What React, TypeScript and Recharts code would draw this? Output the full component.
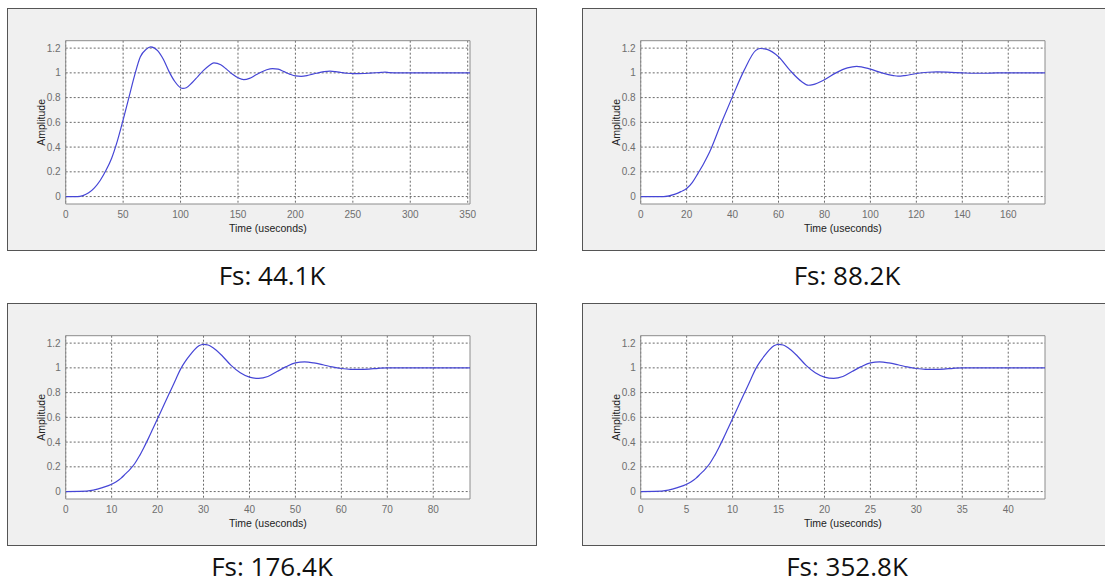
import React from 'react'
import { LineChart, Line, XAxis, YAxis, CartesianGrid, ReferenceArea, Label } from 'recharts'

// step responses
const T_441 = [0, 10, 15, 20, 25, 30, 35, 40, 45, 50, 55, 60, 65, 70, 74, 80, 85, 90, 95, 100, 102, 105, 110, 115, 120, 125, 129, 135, 140, 145, 150, 155, 160, 165, 170, 175, 180, 185, 190, 195, 200, 205, 210, 215, 220, 225, 230, 235, 240, 245, 250, 255, 260, 265, 270, 275, 278, 282, 290, 352]
const A_441 = [0, 0, 0.008, 0.03, 0.07, 0.13, 0.21, 0.31, 0.45, 0.62, 0.8, 0.98, 1.13, 1.19, 1.21, 1.18, 1.11, 1.01, 0.93, 0.88, 0.875, 0.88, 0.92, 0.97, 1.02, 1.06, 1.08, 1.065, 1.03, 0.99, 0.96, 0.945, 0.955, 0.98, 1.005, 1.025, 1.035, 1.03, 1.01, 0.99, 0.975, 0.972, 0.978, 0.99, 1.0, 1.01, 1.014, 1.01, 1.003, 0.997, 0.994, 0.994, 0.995, 0.998, 1.001, 1.004, 1.006, 1.002, 1.0, 1.0]

const T_882 = [0, 10, 15, 17.5, 20, 22.5, 25, 27.5, 30, 35, 40, 45, 50, 52, 55, 60, 65, 70, 73, 75, 80, 85, 90, 94, 100, 105, 110, 112, 115, 120, 125, 129, 135, 140, 145, 150, 155, 160, 176]
const A_882 = [0, 0, 0.02, 0.04, 0.065, 0.115, 0.19, 0.27, 0.36, 0.59, 0.81, 1.02, 1.18, 1.197, 1.19, 1.13, 1.02, 0.93, 0.9, 0.905, 0.945, 1.0, 1.04, 1.053, 1.03, 1.0, 0.978, 0.973, 0.978, 0.995, 1.005, 1.008, 1.004, 1.0, 0.997, 0.997, 1.0, 1.0, 1.0]

const T_1764 = [0, 3, 6, 8, 10, 11, 12, 13, 14, 15, 16, 17, 18, 19, 20, 21, 22, 23, 24, 25, 26, 27, 28, 29, 30, 31, 32, 34, 36, 38, 40, 42, 44, 46, 48, 50, 52, 54, 56, 58, 60, 62, 64, 66, 68, 70, 88]
const A_1764 = [0, 0.001, 0.012, 0.032, 0.059, 0.08, 0.107, 0.143, 0.18, 0.225, 0.285, 0.355, 0.43, 0.51, 0.59, 0.67, 0.75, 0.83, 0.91, 0.99, 1.05, 1.1, 1.145, 1.178, 1.19, 1.185, 1.165, 1.1, 1.02, 0.96, 0.925, 0.915, 0.93, 0.97, 1.01, 1.04, 1.048, 1.04, 1.025, 1.008, 0.995, 0.988, 0.987, 0.99, 0.996, 1.0, 1.0]

const T_3528 = [0, 1.5, 3, 4, 5, 5.5, 6, 6.5, 7, 7.5, 8, 8.5, 9, 9.5, 10, 10.5, 11, 11.5, 12, 12.5, 13, 13.5, 14, 14.5, 15, 15.5, 16, 17, 18, 19, 20, 21, 22, 23, 24, 25, 26, 27, 28, 29, 30, 31, 32, 33, 34, 35, 44]
const A_3528 = [0, 0.001, 0.012, 0.032, 0.059, 0.08, 0.107, 0.143, 0.18, 0.225, 0.285, 0.355, 0.43, 0.51, 0.59, 0.67, 0.75, 0.83, 0.91, 0.99, 1.05, 1.1, 1.145, 1.178, 1.19, 1.185, 1.165, 1.1, 1.02, 0.96, 0.925, 0.915, 0.93, 0.97, 1.01, 1.04, 1.048, 1.04, 1.025, 1.008, 0.995, 0.988, 0.987, 0.99, 0.996, 1.0, 1.0]

const Y_TICKS = [0, 0.2, 0.4, 0.6, 0.8, 1, 1.2]
const Y_DOMAIN: [number, number] = [-0.06, 1.26]

const X_TICKS_441 = [0, 50, 100, 150, 200, 250, 300, 350]
const X_TICKS_882 = [0, 20, 40, 60, 80, 100, 120, 140, 160]
const X_TICKS_1764 = [0, 10, 20, 30, 40, 50, 60, 70, 80]
const X_TICKS_3528 = [0, 5, 10, 15, 20, 25, 30, 35, 40]

const CAPTIONS = ['Fs: 44.1K', 'Fs: 88.2K', 'Fs: 176.4K', 'Fs: 352.8K']

const BOX_W = 530
const BOX_H = 243
const TICK_FONT = '"Liberation Sans", Arial, sans-serif'

interface PanelProps {
  left: number
  top: number
  times: number[]
  amps: number[]
  xTicks: number[]
  xMax: number
  caption: string
  captionGap: number
}

function Panel({ left, top, times, amps, xTicks, xMax, caption, captionGap }: PanelProps) {
  const data = times.map((t, i) => ({ t, a: amps[i] }))
  return (
    <>
      <div
        style={{
          position: 'absolute',
          left,
          top,
          width: BOX_W,
          height: BOX_H,
          background: '#f0f0f0',
          boxSizing: 'border-box',
          border: '1px solid #555',
        }}
      />
      <div style={{ position: 'absolute', left, top }}>
        <LineChart width={BOX_W} height={BOX_H} data={data} margin={{ top: 32.7, right: 67, bottom: 19, left: 8 }}>
          <CartesianGrid
            fill="#ffffff"
            stroke="#6a6a6a"
            strokeDasharray="2 2"
            horizontalValues={Y_TICKS}
            verticalValues={xTicks}
          />
          <XAxis
            dataKey="t"
            type="number"
            domain={[0, xMax]}
            ticks={xTicks}
            allowDataOverflow
            height={28}
            tickLine={false}
            axisLine={false}
            tickSize={6}
            tickMargin={1}
            tick={{ fontSize: 10, fill: '#6e6e6e', fontFamily: TICK_FONT }}
          >
            <Label value="Time (useconds)" position="insideBottom" offset={0} fill="#222" fontSize={10.5} fontFamily={TICK_FONT} />
          </XAxis>
          <YAxis
            type="number"
            domain={Y_DOMAIN}
            ticks={Y_TICKS}
            allowDataOverflow
            width={50.7}
            tickLine={false}
            axisLine={false}
            tickSize={4}
            tickMargin={1}
            tickFormatter={(v: number) => String(v)}
            tick={{ fontSize: 10, fill: '#6e6e6e', fontFamily: TICK_FONT }}
          >
            <Label
              content={(props: any) => {
                const vb = props.viewBox || { x: 8, y: 32.7, width: 50.7, height: 163.3 }
                const cx = vb.x + vb.width / 2 + 0.5
                const cy = vb.y + vb.height / 2
                return (
                  <text
                    x={cx}
                    y={cy}
                    transform={`rotate(-90, ${cx}, ${cy})`}
                    textAnchor="middle"
                    dominantBaseline="central"
                    fill="#222"
                    fontSize={10.5}
                    fontFamily={TICK_FONT}
                  >
                    Amplitude
                  </text>
                )
              }}
            />
          </YAxis>
          <ReferenceArea x1={0} x2={xMax} y1={Y_DOMAIN[0]} y2={Y_DOMAIN[1]} fill="none" stroke="#8c8c8c" strokeWidth={1} ifOverflow="visible" />
          <Line type="monotone" dataKey="a" stroke="#4646d6" strokeWidth={1.2} dot={false} isAnimationActive={false} />
        </LineChart>
      </div>
      <div
        style={{
          position: 'absolute',
          left,
          top: top + BOX_H + captionGap,
          width: BOX_W,
          textAlign: 'center',
          fontFamily: '"Open Sans", sans-serif',
          fontSize: 26,
          lineHeight: '26px',
          color: '#111',
        }}
      >
        {caption}
      </div>
    </>
  )
}

export default function App() {
  return (
    <div style={{ position: 'fixed', left: 0, top: 0, width: 1105, height: 583, overflow: 'hidden', background: '#ffffff' }}>
      <Panel left={7} top={8} times={T_441} amps={A_441} xTicks={X_TICKS_441} xMax={352} caption={CAPTIONS[0]} captionGap={11} />
      <Panel left={582} top={8} times={T_882} amps={A_882} xTicks={X_TICKS_882} xMax={176} caption={CAPTIONS[1]} captionGap={11} />
      <Panel left={7} top={303} times={T_1764} amps={A_1764} xTicks={X_TICKS_1764} xMax={88} caption={CAPTIONS[2]} captionGap={7} />
      <Panel left={582} top={303} times={T_3528} amps={A_3528} xTicks={X_TICKS_3528} xMax={44} caption={CAPTIONS[3]} captionGap={7} />
    </div>
  )
}
